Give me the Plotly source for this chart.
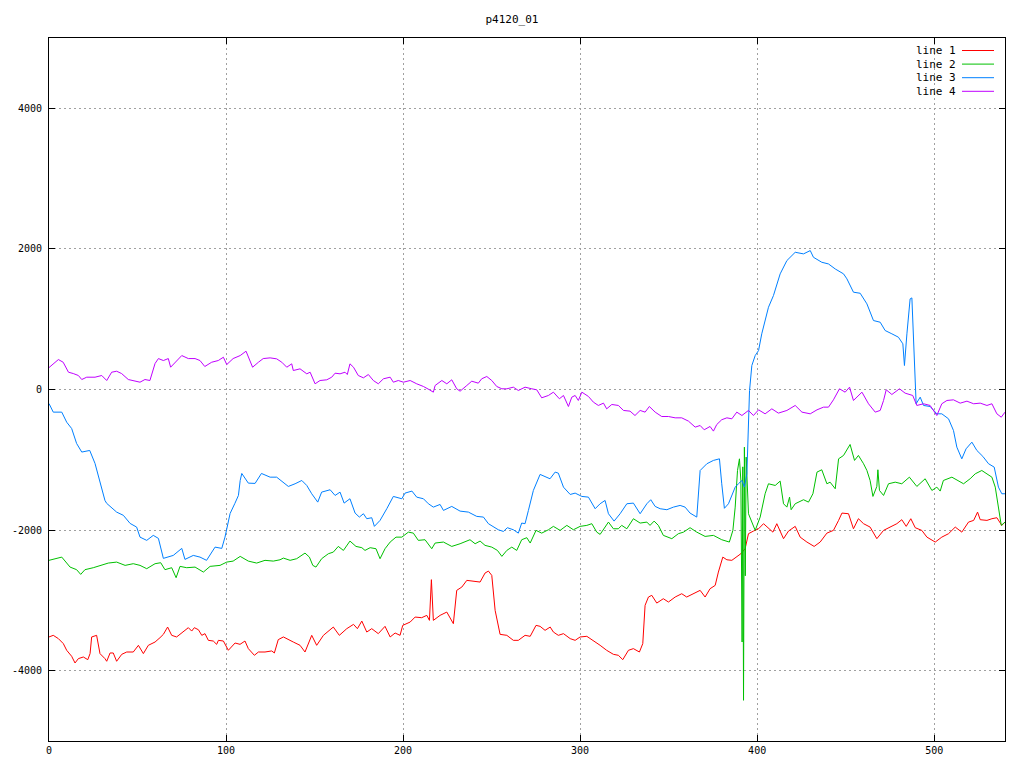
import plotly.graph_objects as go

title_text = "p4120_01"
series_names = ["line 1", "line 2", "line 3", "line 4"]
series_colors = ["#ff0000", "#00c000", "#0080ff", "#c000ff"]

x_tick_vals = [0, 100, 200, 300, 400, 500]
y_tick_vals = [-4000, -2000, 0, 2000, 4000]
y_tick_text = ["-4000", "-2000", "0", "2000", "4000"]

line1_pts = [(0,-3520),(2.4,-3497),(5.3,-3544),(8.1,-3615),(10,-3710),(12.8,-3795),(14.7,-3890),(16.6,-3828),(19.4,-3805),(21.9,-3843),(23.2,-3757),(24.1,-3520),(26.9,-3497),(28.8,-3757),(31.6,-3828),(32.6,-3866),(34.5,-3748),(36.3,-3748),(38.2,-3866),(41.1,-3767),(43.9,-3734),(47.6,-3734),(50.5,-3639),(53.3,-3757),(56.1,-3639),(59.9,-3592),(62.7,-3530),(64.6,-3483),(67,-3379),(69.3,-3497),(72.1,-3520),(75,-3464),(78.7,-3388),(80.6,-3436),(82.1,-3388),(84.4,-3417),(86.3,-3497),(88.1,-3473),(90,-3568),(92.8,-3578),(94.7,-3625),(95.7,-3568),(98.5,-3578),(101.3,-3710),(105.1,-3606),(107.9,-3625),(110.7,-3578),(112.6,-3686),(116,-3781),(118.3,-3734),(122,-3734),(125.8,-3719),(127.3,-3748),(129.5,-3558),(132.4,-3520),(138,-3592),(141.8,-3639),(144.6,-3734),(148.4,-3497),(151.2,-3639),(155,-3497),(160.6,-3379),(164,-3497),(168.2,-3402),(172,-3341),(174.2,-3402),(176.7,-3294),(179.5,-3450),(182.3,-3402),(186,-3473),(189.8,-3369),(192.7,-3520),(195.5,-3464),(198.3,-3497),(199.8,-3355),(204,-3308),(206.8,-3237),(210.5,-3246),(213.4,-3213),(214.9,-3284),(216,-2705),(217.1,-3284),(220.9,-3213),(224.7,-3166),(228.4,-3331),(230.3,-2857),(233.2,-2810),(236,-2715),(239.7,-2725),(243.5,-2739),(246.3,-2611),(248.2,-2583),(250.1,-2644),(252,-3142),(254.8,-3483),(258.6,-3497),(262.3,-3568),(265.1,-3568),(268.9,-3497),(271.8,-3511),(275.1,-3355),(277.4,-3369),(280.2,-3426),(283.1,-3379),(284.9,-3450),(287.7,-3497),(290.6,-3473),(294.4,-3544),(297.2,-3568),(300,-3520),(303.8,-3511),(307.5,-3568),(311.3,-3639),(315,-3710),(318.8,-3767),(321.6,-3781),(324.1,-3843),(327.3,-3710),(330.1,-3686),(333.5,-3734),(335.4,-3615),(336.7,-3070),(338.6,-2952),(340.5,-2928),(343.3,-3038),(347,-2976),(349.9,-3023),(353.7,-2952),(357.4,-2905),(360.2,-2952),(364,-2905),(367.8,-2857),(370.6,-2952),(373.4,-2834),(376.3,-2786),(378.1,-2597),(380.6,-2384),(382.9,-2422),(385.7,-2430),(388.5,-2384),(390.8,-2336),(393.2,-2265),(395.1,-2051),(397.9,-2014),(400.8,-1981),(403.6,-1909),(406.4,-1966),(408.9,-2029),(411.1,-1909),(413,-2004),(414.9,-2122),(417.7,-2014),(421.5,-1947),(424.3,-2100),(428.1,-2170),(432.2,-2232),(435.6,-2170),(439.4,-2043),(443.1,-2004),(446,-1862),(447.9,-1758),(451.6,-1767),(454.4,-1981),(457.2,-1838),(460.1,-1909),(463.8,-1957),(467.6,-2122),(471.4,-2004),(475.1,-1957),(478.9,-1909),(481.7,-1852),(484.2,-1947),(486.8,-1838),(489.3,-1966),(493,-2004),(495.9,-2100),(500.6,-2170),(504.3,-2100),(508.1,-2051),(511.9,-1957),(515.6,-2029),(519.4,-1886),(522.3,-1862),(524.5,-1744),(526,-1852),(529.8,-1862),(532.6,-1838),(535.4,-1824),(538.2,-1933),(540,-1886)]

line2_pts = [(0,-2430),(3.4,-2407),(7.2,-2384),(11.9,-2526),(15.6,-2563),(17.9,-2630),(20.3,-2563),(25,-2535),(29.8,-2502),(33.5,-2469),(38.2,-2455),(43,-2502),(47.6,-2478),(51.4,-2502),(55.2,-2549),(59.9,-2478),(63.1,-2464),(65.5,-2563),(69.3,-2535),(71.8,-2677),(74,-2516),(77.8,-2535),(82.5,-2526),(87.2,-2597),(91,-2516),(96.6,-2502),(100.4,-2455),(104,-2441),(108,-2374),(112.6,-2441),(117.3,-2469),(122,-2430),(126.7,-2441),(130.5,-2422),(132.4,-2398),(136.2,-2430),(139.9,-2407),(144.6,-2327),(147.1,-2384),(149,-2502),(150.8,-2526),(154,-2407),(157.8,-2336),(160.6,-2313),(163.4,-2232),(166.3,-2289),(170,-2156),(173.4,-2232),(176.7,-2250),(178.5,-2289),(181.4,-2250),(184.7,-2265),(187,-2407),(189.8,-2265),(192.7,-2170),(196,-2100),(199.3,-2100),(203,-2029),(205.8,-2043),(208.6,-2146),(212.4,-2137),(214.9,-2217),(216.2,-2265),(218.1,-2184),(222.8,-2170),(227.5,-2232),(232.2,-2194),(237.8,-2137),(240.7,-2194),(243.5,-2156),(246.3,-2217),(250.1,-2242),(253.3,-2289),(255.8,-2374),(258.6,-2289),(261.4,-2242),(264.2,-2289),(267,-2137),(269.9,-2108),(271.8,-2184),(275.1,-2004),(278.3,-2043),(282.1,-1995),(284.9,-1947),(288.7,-2004),(292.5,-1933),(296.2,-1995),(300,-1947),(303.8,-1933),(306.6,-1909),(309.4,-2029),(311.3,-2061),(314.1,-1957),(316,-1886),(318.8,-1981),(321.6,-1981),(323.5,-1933),(326.4,-1981),(330.1,-1838),(333.9,-1900),(337.7,-1886),(339.5,-1933),(341.8,-1872),(344.2,-1933),(347,-2075),(351.8,-2122),(355.5,-2051),(358.4,-2029),(362.1,-1966),(365.9,-2029),(370.6,-2090),(375.3,-2075),(380,-2137),(384.3,-2170),(386.3,-2004),(387.6,-1673),(388.9,-1152),(390,-986),(390.8,-1294),(391.5,-3592),(391.9,-1100),(392.3,-4421),(392.8,-820),(393.3,-2650),(393.8,-962),(395.1,-1767),(398.9,-2004),(401.7,-1815),(404.5,-1483),(406.4,-1341),(410.2,-1365),(413,-1303),(414.9,-1625),(416.8,-1673),(418.3,-1531),(419.2,-1710),(421.5,-1625),(426.2,-1568),(429,-1602),(431.5,-1483),(433.8,-1175),(436.5,-1142),(439.4,-1341),(441.2,-1318),(444.1,-1412),(446,-986),(448.8,-938),(452.5,-782),(455,-1009),(457.2,-938),(460.1,-1056),(462,-1152),(463.8,-1294),(465.4,-1521),(467.6,-1379),(468.2,-1142),(469.1,-1436),(471.4,-1507),(474.2,-1341),(478,-1318),(481.7,-1341),(486,-1247),(490.2,-1379),(494.9,-1270),(498.7,-1436),(501.5,-1389),(503.4,-1445),(505.2,-1294),(510,-1247),(513.7,-1294),(516.6,-1341),(520.3,-1270),(523.2,-1199),(526.9,-1152),(529.8,-1199),(532.6,-1247),(534.5,-1389),(536.3,-1673),(537.9,-1933),(540,-1886)]

line3_pts = [(0,-200),(2.4,-322),(7.2,-322),(10,-465),(12.8,-555),(15.6,-768),(18.5,-890),(23,-867),(26,-1052),(28.8,-1336),(31.6,-1578),(32.6,-1620),(38.2,-1744),(42,-1790),(45.8,-1905),(49.5,-1957),(51.4,-2100),(55.2,-2146),(58.9,-2075),(61.8,-2118),(64.6,-2402),(70.2,-2360),(75,-2260),(76.8,-2417),(81.5,-2360),(85.3,-2384),(89,-2430),(93.8,-2242),(97.6,-2260),(99.4,-2100),(102.3,-1763),(105,-1620),(107,-1507),(108,-1294),(108.9,-1194),(112.6,-1332),(116.4,-1336),(120,-1194),(124.9,-1247),(128.6,-1247),(132.4,-1318),(135.2,-1379),(139,-1341),(142.8,-1294),(145.6,-1365),(148.4,-1483),(151.8,-1602),(154,-1460),(158.8,-1426),(161.6,-1507),(164.4,-1460),(166.7,-1616),(170,-1554),(172.9,-1758),(175.3,-1815),(177.6,-1767),(179.5,-1838),(182.3,-1824),(183.8,-1947),(187,-1862),(190.8,-1696),(194.5,-1521),(199.3,-1554),(201.1,-1474),(205,-1445),(207.7,-1531),(211.5,-1554),(214.3,-1625),(217.1,-1673),(220.9,-1635),(222.8,-1720),(227.5,-1663),(232.2,-1730),(236.9,-1744),(241.6,-1805),(245.4,-1815),(248.2,-1909),(251,-1947),(253.8,-1995),(256.7,-2019),(258.9,-1966),(262.3,-1995),(265.1,-2043),(267,-1900),(268.9,-1909),(270.8,-1720),(273.6,-1436),(277.4,-1208),(281.2,-1247),(283,-1270),(285.9,-1175),(287.7,-1190),(290.6,-1389),(294.4,-1493),(297.2,-1474),(301,-1521),(304.7,-1531),(308.5,-1696),(311.3,-1625),(314.1,-1578),(316,-1767),(319.2,-1872),(322.6,-1767),(326.4,-1625),(330.1,-1616),(333.9,-1767),(337.7,-1625),(339.9,-1568),(342.4,-1663),(345.2,-1696),(349,-1710),(352.7,-1673),(356.5,-1649),(359.3,-1673),(362.1,-1758),(365.9,-1815),(367.8,-1152),(371.6,-1056),(375.3,-1009),(378.7,-986),(380,-1341),(381.5,-1690),(383.8,-1625),(387.6,-1389),(389.4,-1341),(391.4,-1294),(392.8,-1389),(394.2,-1199),(395.7,-14),(397,341),(398.9,483),(400.8,554),(402.6,792),(406.4,1170),(409.2,1336),(413,1645),(416.8,1834),(421.5,1952),(426.2,1929),(430,1976),(431.8,1881),(436.5,1810),(440.3,1786),(444.1,1715),(448.8,1645),(450.7,1574),(454.4,1384),(458.2,1369),(462,1218),(465.7,981),(469.5,957),(472.3,839),(476.1,792),(479.8,744),(482.3,650),(483.2,341),(484.6,792),(486.4,1289),(487.4,1303),(488.7,601),(489.8,-203),(492.1,-109),(494,-227),(497.7,-242),(501.5,-346),(504.3,-346),(508.1,-417),(510.9,-583),(512.8,-820),(515.6,-986),(518,-844),(521.3,-749),(524.1,-867),(527.5,-952),(530.7,-1056),(533.9,-1104),(536.3,-1389),(538.2,-1483),(540,-1483)]

line4_pts = [(0,312),(2.4,370),(5.3,426),(8,388),(11,246),(13.7,227),(16.6,199),(18.5,142),(21.3,175),(26,175),(29.8,199),(32.6,128),(35.4,246),(38.2,260),(41,227),(44.8,142),(48.6,118),(51.4,104),(54.2,142),(57,128),(59.9,370),(61.8,440),(64.6,412),(67.4,440),(68.7,317),(71.2,388),(75,483),(78.7,440),(82.5,440),(85.3,412),(88,327),(91.9,388),(95.6,412),(98.5,459),(100.4,355),(104,440),(108,483),(111.3,545),(115,317),(118.3,388),(121,440),(124.9,450),(128.6,436),(131.5,388),(134.3,317),(137.1,365),(138,270),(141.8,294),(145.6,223),(147.5,246),(150.3,81),(153.1,128),(156.9,138),(159.7,175),(161.6,232),(164.4,223),(167.2,246),(168.5,213),(170,365),(172,317),(174.7,199),(177.6,166),(180.4,213),(183.2,128),(186,81),(188.9,152),(192.7,175),(194.5,104),(197.3,128),(200.2,104),(204,128),(207.7,81),(211.5,43),(214.9,-4),(217.1,-38),(218.1,57),(221.9,128),(224.7,81),(227.5,138),(230.3,10),(232.2,-24),(236,57),(238.8,118),(242.5,90),(244.4,152),(247.3,185),(250.1,128),(252.9,43),(255.8,10),(258.6,10),(262.3,33),(265.1,-14),(268.9,33),(272.7,10),(275.5,-4),(278.3,-118),(282.1,-85),(284.9,-38),(288.3,-132),(290.6,-85),(293.4,-242),(295.3,-109),(297.2,-85),(299,-156),(301,-38),(304.7,-99),(307.5,-180),(310.3,-227),(313.2,-194),(315,-275),(317.9,-213),(321.6,-227),(324.5,-298),(328.2,-308),(331,-370),(333.9,-298),(336.7,-322),(339.1,-242),(342.4,-322),(346.1,-384),(349.9,-384),(353.7,-403),(357.4,-403),(361.2,-450),(365,-535),(367.8,-512),(370.1,-573),(373.4,-526),(375.3,-592),(377.2,-498),(380,-430),(382.9,-403),(385.7,-417),(388.5,-322),(391.4,-370),(395.1,-298),(397.9,-370),(400.8,-289),(404.5,-346),(408.3,-275),(412,-336),(416.8,-298),(421.5,-227),(425.3,-322),(430,-346),(433.8,-289),(437.5,-251),(440.3,-251),(443.1,-147),(446.5,10),(449.7,-38),(452.2,33),(454.4,-156),(459.2,-38),(462.9,-203),(466.7,-322),(469.5,-298),(471.4,-156),(472.9,-4),(476.1,-71),(480.4,10),(483.6,-52),(487.9,-85),(490.2,-227),(494,-203),(497.7,-227),(501.5,-370),(504.3,-203),(507.2,-156),(510.9,-147),(514.7,-194),(518.5,-166),(522.3,-203),(526,-194),(529.8,-227),(532.6,-203),(535.4,-346),(537.9,-394),(540,-322)]

all_series = [line1_pts, line2_pts, line3_pts, line4_pts]

fig = go.Figure()
for name, color, pts in zip(series_names, series_colors, all_series):
    fig.add_trace(go.Scatter(
        x=[p[0] for p in pts], y=[p[1] for p in pts],
        mode="lines", name=name,
        line=dict(color=color, width=1),
        showlegend=False,
    ))

MONO = "DejaVu Sans Mono, Liberation Mono, monospace"

# The page body has an 8px margin, so the figure starts at (8, 8) in the window.
OFF = 8
W, H = 1008, 752
ml, mr, mt, mb = 49 - OFF, W - (1005 - OFF), 38 - OFF, H - (741 - OFF)
pw, ph = W - ml - mr, H - mt - mb

def px_to_paper(px, py):
    fx, fy = px - OFF, py - OFF
    return (fx - ml) / pw, 1 - (fy - mt) / ph

# gnuplot-style key: text right-aligned, sample line to its right
for i, (name, color) in enumerate(zip(series_names, series_colors)):
    py = 50.5 + i * 13.6
    tx, ty = px_to_paper(958, py)
    fig.add_annotation(x=tx, y=ty, xref="paper", yref="paper", text=name,
                       showarrow=False, xanchor="right", yanchor="middle",
                       font=dict(family=MONO, size=11, color="black"))
    x0, y0 = px_to_paper(962, py)
    x1, _ = px_to_paper(994, py)
    fig.add_shape(type="line", xref="paper", yref="paper",
                  x0=x0, x1=x1, y0=y0, y1=y0,
                  line=dict(color=color, width=1))

axis_common = dict(
    showline=True, linecolor="black", linewidth=1, mirror="allticks",
    ticks="inside", ticklen=6, tickcolor="black", tickwidth=1,
    showgrid=True, gridcolor="#a0a0a0", griddash="2px,3px", gridwidth=1,
    zeroline=False, automargin=False,
    tickfont=dict(family=MONO, size=10, color="black"),
)

fig.update_layout(
    width=W, height=H,
    margin=dict(l=ml, r=mr, t=mt, b=mb, pad=0, autoexpand=False),
    paper_bgcolor="white", plot_bgcolor="white",
    title=dict(text=title_text, x=0.5, xanchor="center", y=1 - (19 - OFF) / H, yanchor="middle",
               font=dict(family=MONO, size=11, color="black")),
    xaxis=dict(range=[0, 540], tickvals=x_tick_vals, **axis_common),
    yaxis=dict(range=[-5000, 5000], tickvals=y_tick_vals, ticktext=y_tick_text,
               ticklabelstandoff=4, **axis_common),
)

fig.write_html("out.html")
